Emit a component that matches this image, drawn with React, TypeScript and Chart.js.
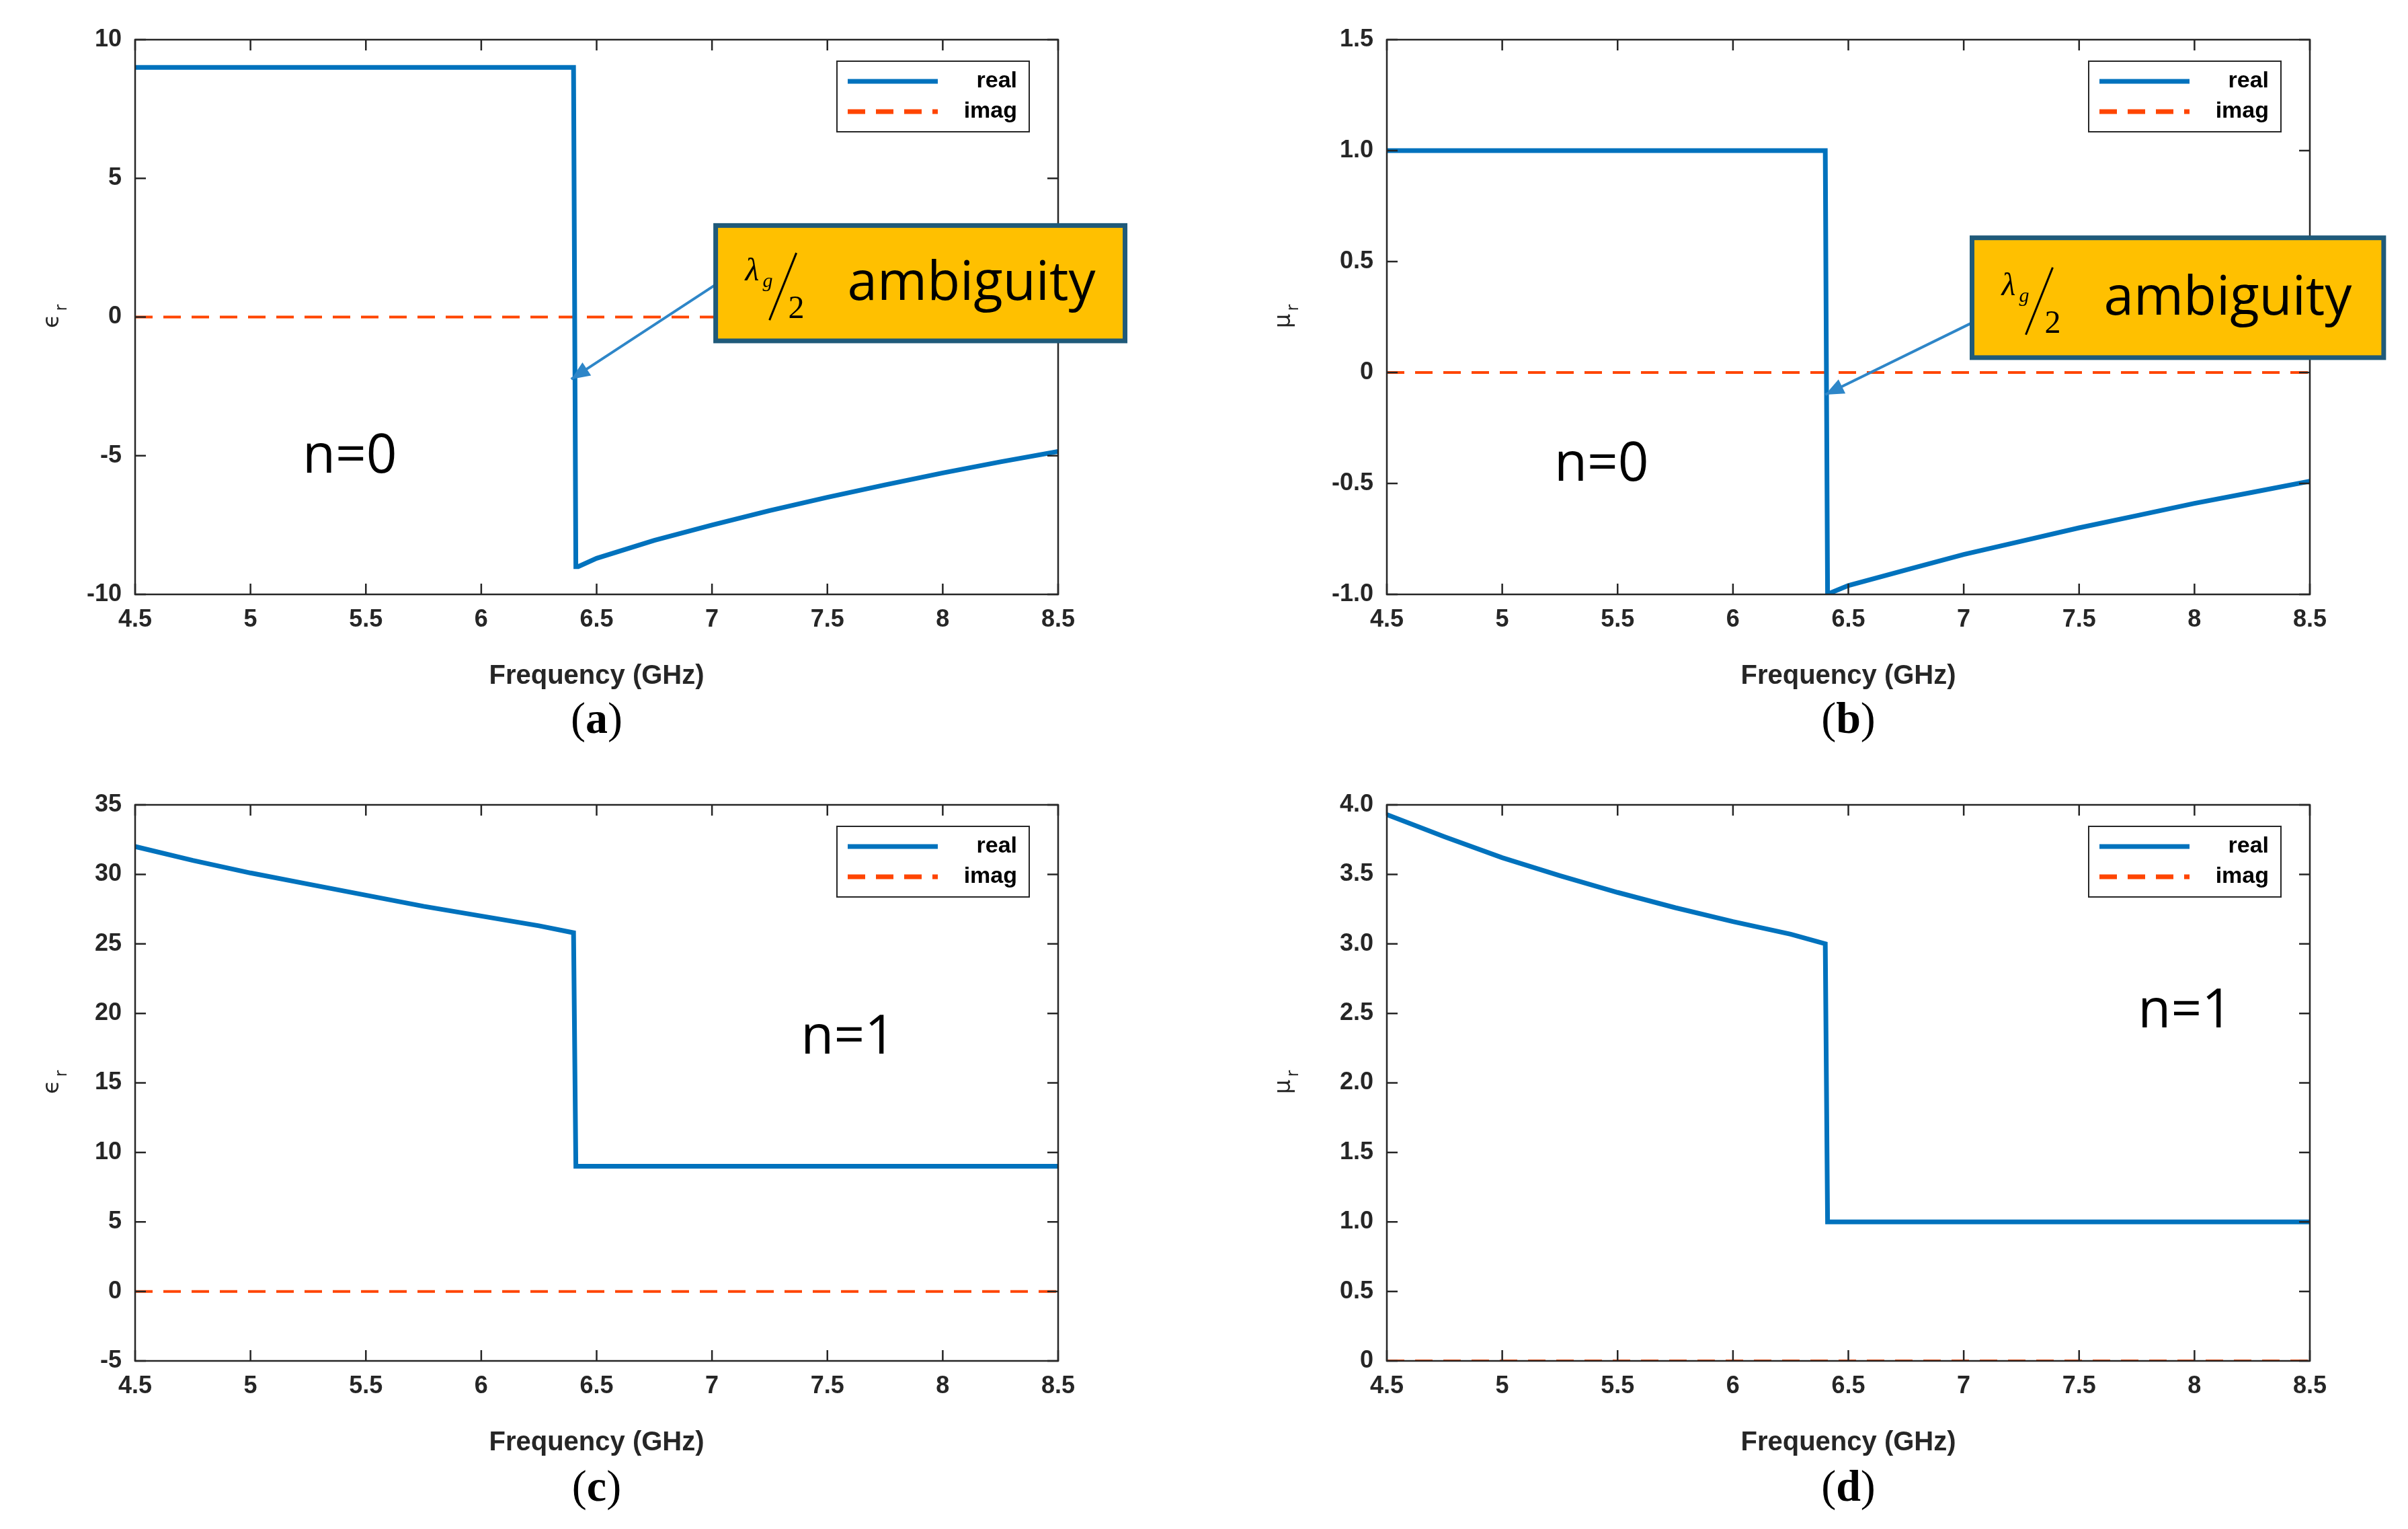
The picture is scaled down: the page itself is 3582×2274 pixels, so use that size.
import React, { useEffect, useRef } from "react";
import { Chart, registerables } from "chart.js";
Chart.register(...registerables);

const freqA = [4.5, 6.4, 6.41, 6.42, 6.5, 6.75, 7, 7.25, 7.5, 7.75, 8, 8.25, 8.5];
const realA = [9, 9, -9, -9, -8.7, -8.05, -7.5, -6.98, -6.5, -6.05, -5.62, -5.22, -4.85];
const freqB = [4.5, 6.4, 6.41, 6.43, 6.5, 6.75, 7, 7.25, 7.5, 7.75, 8, 8.25, 8.5];
const realB = [1, 1, -1, -0.99, -0.96, -0.89, -0.82, -0.76, -0.7, -0.645, -0.59, -0.54, -0.49];
const freqC = [4.5, 4.75, 5, 5.25, 5.5, 5.75, 6, 6.25, 6.4, 6.41, 8.5];
const realC = [32, 31, 30.1, 29.3, 28.5, 27.7, 27.0, 26.3, 25.8, 9, 9];
const freqD = [4.5, 4.75, 5, 5.25, 5.5, 5.75, 6, 6.25, 6.4, 6.41, 8.5];
const realD = [3.93, 3.77, 3.62, 3.49, 3.37, 3.26, 3.16, 3.07, 3.0, 1, 1];
const imagX = [4.5, 8.5];
const imagY = [0, 0];

const xTicks = ["4.5", "5", "5.5", "6", "6.5", "7", "7.5", "8", "8.5"];
const legendLabels = ["real", "imag"];

type Panel = {
  fx: number[]; fy: number[]; ymin: number; ymax: number; step: number;
  yl: string; note: string; noteX: number; noteY: number;
  box?: { x0: number; x1: number; y0: number; y1: number; ax: number; ay: number; tx: number; ty: number };
  left: number; top: number; yw: number; pr: number; pt: number; pb: number; cap: string;
};

const panels: Panel[] = [
  { fx: freqA, fy: realA, ymin: -10, ymax: 10, step: 5, yl: "ϵ", note: "n=0", noteX: 5.43, noteY: -5.07,
    box: { x0: 7.016, x1: 8.79, y0: 3.3, y1: -0.86, ax: 7.02, ay: 1.19, tx: 6.39, ty: -2.24 },
    left: 0, top: 0, yw: 201, pr: 217, pt: 59, pb: 103, cap: "a" },
  { fx: freqB, fy: realB, ymin: -1, ymax: 1.5, step: 0.5, yl: "μ", note: "n=0", noteX: 5.43, noteY: -0.42,
    box: { x0: 7.036, x1: 8.82, y0: 0.607, y1: 0.067, ax: 7.04, ay: 0.226, tx: 6.4, ty: -0.1 },
    left: 1791, top: 0, yw: 272, pr: 146, pt: 59, pb: 103, cap: "b" },
  { fx: freqC, fy: realC, ymin: -5, ymax: 35, step: 5, yl: "ϵ", note: "n=1", noteX: 7.59, noteY: 18.2,
    left: 0, top: 1137, yw: 201, pr: 217, pt: 60, pb: 100, cap: "c" },
  { fx: freqD, fy: realD, ymin: 0, ymax: 4, step: 0.5, yl: "μ", note: "n=1", noteX: 7.96, noteY: 2.51,
    left: 1791, top: 1137, yw: 272, pr: 146, pt: 60, pb: 100, cap: "d" },
];

const BLUE = "#0072BD";
const ORANGE = "#FF4500";
const W = 1791, H = 1137;

function ChartPanel({ p }: { p: Panel }) {
  const ref = useRef<HTMLCanvasElement>(null);
  useEffect(() => {
    const deco = {
      id: "deco",
      afterDraw(chart: any) {
        const ctx = chart.ctx as CanvasRenderingContext2D;
        const a = chart.chartArea;
        const xs = chart.scales.x, ys = chart.scales.y;
        ctx.save();
        ctx.strokeStyle = "#262626";
        ctx.lineWidth = 2.5;
        ctx.strokeRect(a.left, a.top, a.right - a.left, a.bottom - a.top);
        const tl = 16;
        ctx.beginPath();
        xs.ticks.forEach((t: any) => {
          const px = xs.getPixelForValue(t.value);
          ctx.moveTo(px, a.bottom); ctx.lineTo(px, a.bottom - tl);
          ctx.moveTo(px, a.top); ctx.lineTo(px, a.top + tl);
        });
        ys.ticks.forEach((t: any) => {
          const py = ys.getPixelForValue(t.value);
          ctx.moveTo(a.left, py); ctx.lineTo(a.left + tl, py);
          ctx.moveTo(a.right, py); ctx.lineTo(a.right - tl, py);
        });
        ctx.stroke();
        // y label
        ctx.fillStyle = "#262626";
        ctx.save();
        ctx.translate(a.left - (p.yw === 201 ? 114 : 144), (a.top + a.bottom) / 2);
        ctx.rotate(-Math.PI / 2);
        ctx.font = "34px 'DejaVu Sans'";
        ctx.textAlign = "center";
        ctx.textBaseline = "alphabetic";
        ctx.fillText(p.yl, -6, 0);
        ctx.font = "24px 'DejaVu Sans'";
        ctx.fillText("r", 14, 12);
        ctx.restore();
        // legend
        const lw = 286, lh = 105;
        const lx = a.right - 43 - lw, ly = a.top + 32;
        ctx.fillStyle = "#fff";
        ctx.fillRect(lx, ly, lw, lh);
        ctx.lineWidth = 2;
        ctx.strokeStyle = "#262626";
        ctx.strokeRect(lx, ly, lw, lh);
        ctx.lineWidth = 7;
        ctx.strokeStyle = BLUE;
        ctx.beginPath(); ctx.moveTo(lx + 16, ly + 30); ctx.lineTo(lx + 150, ly + 30); ctx.stroke();
        ctx.strokeStyle = ORANGE;
        ctx.setLineDash([26, 16]);
        ctx.beginPath(); ctx.moveTo(lx + 16, ly + 75); ctx.lineTo(lx + 150, ly + 75); ctx.stroke();
        ctx.setLineDash([]);
        ctx.fillStyle = "#000";
        ctx.font = "bold 34px 'Liberation Sans'";
        ctx.textAlign = "right";
        ctx.textBaseline = "middle";
        ctx.fillText(legendLabels[0], lx + lw - 18, ly + 30);
        ctx.fillText(legendLabels[1], lx + lw - 18, ly + 75);
        // note
        ctx.textAlign = "center";
        ctx.font = "80px 'Open Sans'";
        ctx.fillText(p.note, xs.getPixelForValue(p.noteX), ys.getPixelForValue(p.noteY));
        // callout
        if (p.box) {
          const b = p.box;
          const x0 = xs.getPixelForValue(b.x0), x1 = xs.getPixelForValue(b.x1);
          const y0 = ys.getPixelForValue(b.y0), y1 = ys.getPixelForValue(b.y1);
          const sx = xs.getPixelForValue(b.ax), sy = ys.getPixelForValue(b.ay);
          const tx = xs.getPixelForValue(b.tx), ty = ys.getPixelForValue(b.ty);
          ctx.strokeStyle = "#2E86C8"; ctx.fillStyle = "#2E86C8"; ctx.lineWidth = 4;
          ctx.beginPath(); ctx.moveTo(sx, sy); ctx.lineTo(tx, ty); ctx.stroke();
          const ang = Math.atan2(ty - sy, tx - sx);
          ctx.beginPath();
          ctx.moveTo(tx, ty);
          ctx.lineTo(tx - 30 * Math.cos(ang - 0.4), ty - 30 * Math.sin(ang - 0.4));
          ctx.lineTo(tx - 30 * Math.cos(ang + 0.4), ty - 30 * Math.sin(ang + 0.4));
          ctx.closePath(); ctx.fill();
          ctx.fillStyle = "#FFC000";
          ctx.fillRect(x0, y0, x1 - x0, y1 - y0);
          ctx.strokeStyle = "#1F5A7A"; ctx.lineWidth = 7;
          ctx.strokeRect(x0, y0, x1 - x0, y1 - y0);
          const cy = (y0 + y1) / 2;
          ctx.fillStyle = "#000";
          ctx.textAlign = "left"; ctx.textBaseline = "alphabetic";
          ctx.font = "italic 48px 'Liberation Serif'";
          ctx.fillText("λ", x0 + 44, cy - 4);
          ctx.font = "italic 30px 'Liberation Serif'";
          ctx.fillText("g", x0 + 70, cy + 6);
          ctx.strokeStyle = "#000"; ctx.lineWidth = 3;
          ctx.beginPath(); ctx.moveTo(x0 + 80, cy + 55); ctx.lineTo(x0 + 120, cy - 45); ctx.stroke();
          ctx.font = "48px 'Liberation Serif'";
          ctx.fillText("2", x0 + 108, cy + 52);
          ctx.font = "80px 'Open Sans'";
          ctx.textBaseline = "middle";
          ctx.fillText("ambiguity", x0 + 196, cy + 2);
        }
        ctx.restore();
      },
    };
    const chart = new Chart(ref.current!, {
      type: "line",
      data: {
        datasets: [
          { data: p.fx.map((x, i) => ({ x, y: p.fy[i] })), borderColor: BLUE, borderWidth: 7, pointRadius: 0, tension: 0 },
          { data: imagX.map((x, i) => ({ x, y: imagY[i] })), borderColor: ORANGE, borderWidth: 4, borderDash: [26, 16], pointRadius: 0 },
        ],
      },
      options: {
        animation: false, responsive: false,
        layout: { padding: { top: p.pt, right: p.pr, bottom: p.pb, left: 0 } },
        plugins: { legend: { display: false }, tooltip: { enabled: false } },
        scales: {
          x: {
            type: "linear", min: 4.5, max: 8.5,
            grid: { display: false }, border: { display: false },
            afterBuildTicks: (s: any) => { s.ticks = xTicks.map((t) => ({ value: parseFloat(t) })); },
            afterFit: (s: any) => { s.height = 150; },
            ticks: { color: "#262626", font: { family: "Liberation Sans", size: 36, weight: "bold" }, padding: 8, maxRotation: 0, callback: (v: any) => String(v) },
            title: { display: true, text: "Frequency (GHz)", color: "#262626", font: { family: "Liberation Sans", size: 40, weight: "bold" }, padding: { top: 0 } },
          },
          y: {
            min: p.ymin, max: p.ymax,
            grid: { display: false }, border: { display: false },
            afterFit: (s: any) => { s.width = p.yw; },
            ticks: { stepSize: p.step, color: "#262626", font: { family: "Liberation Sans", size: 36, weight: "bold" }, padding: 12 },
          },
        },
      } as any,
      plugins: [deco],
    });
    return () => chart.destroy();
  }, []);
  return (
    <div style={{ position: "absolute", left: p.left, top: p.top, width: W, height: H }}>
      <canvas ref={ref} width={W} height={H} style={{ width: W, height: H }} />
      <div style={{ position: "absolute", left: p.yw, width: W - p.yw - p.pr, top: p.top === 0 ? 1030 : 1035, textAlign: "center", fontFamily: "'Liberation Serif', serif", fontSize: 66, color: "#000" }}>
        (<b>{p.cap}</b>)
      </div>
    </div>
  );
}

export default function App() {
  return (
    <div style={{ position: "absolute", left: 0, top: 0, width: 3582, height: 2274, background: "#fff" }}>
      {panels.map((p) => <ChartPanel key={p.cap} p={p} />)}
    </div>
  );
}
